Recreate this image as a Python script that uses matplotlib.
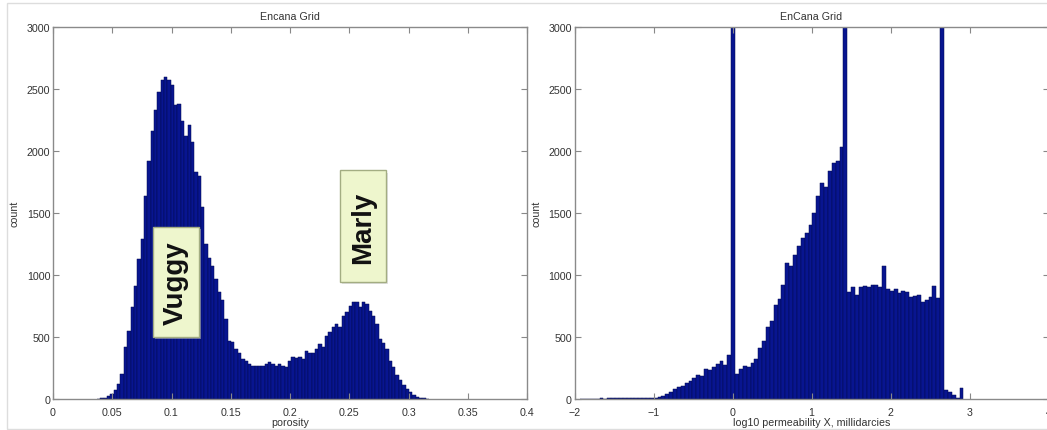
import numpy as np
import matplotlib
matplotlib.use("Agg")
from matplotlib import pyplot as plt
from matplotlib.patches import Rectangle
from matplotlib.transforms import offset_copy

plt.rcParams['font.family'] = ['Liberation Sans', 'DejaVu Sans']

##########################
# porosity histogram (99 bins)
##########################
poro_lo = 0.0371
poro_hi = 0.3173
poro_counts = [2, 5, 12, 22, 40, 70, 120, 200, 420, 550,
               740, 915, 1130, 1290, 1640, 1920, 2165, 2330, 2475, 2570,
               2600, 2570, 2530, 2370, 2380, 2245, 2125, 2210, 2070, 1830,
               1800, 1545, 1250, 1140, 1075, 970, 860, 795, 645, 470,
               457, 400, 375, 320, 310, 280, 270, 270, 270, 270,
               280, 295, 280, 270, 280, 270, 255, 310, 335, 330,
               335, 320, 390, 375, 375, 400, 445, 420, 510, 540,
               580, 605, 580, 670, 700, 750, 780, 780, 740, 780,
               765, 710, 670, 605, 485, 455, 400, 310, 255, 190,
               150, 110, 80, 55, 30, 20, 10, 5, 2]

##########################
# log10 perm histogram (99 bins)
##########################
perm_lo = -1.928
perm_hi = 2.923
perm_counts = [3, 0, 2, 4, 3, 5, 4, 6, 5, 7,
               6, 9, 8, 10, 9, 12, 10, 8, 6, 5,
               13, 27, 40, 60, 80, 95, 108, 127, 143, 167,
               197, 184, 243, 230, 257, 284, 310, 275, 356, 5200,
               200, 240, 265, 255, 290, 320, 410, 470, 580, 630,
               760, 805, 920, 1100, 1070, 1160, 1230, 1300, 1340, 1400,
               1500, 1640, 1740, 1710, 1840, 1900, 1920, 2030, 4400, 860,
               900, 840, 905, 915, 900, 922, 922, 905, 1075, 887,
               874, 887, 855, 868, 860, 820, 833, 841, 785, 801,
               820, 915, 812, 3900, 70, 60, 35, 10, 90]

poro_ticks = [0, 0.05, 0.1, 0.15, 0.2, 0.25, 0.3, 0.35, 0.4]
perm_ticks = [-2, -1, 0, 1, 2, 3, 4]
y_ticks = [0, 500, 1000, 1500, 2000, 2500, 3000]

# label boxes (data coords: x0, x1, y0, y1)
vuggy_box = (0.0844, 0.1232, 500, 1385)
marly_box = (0.2425, 0.2813, 941, 1843)

bar_face = '#081590'
bar_edge = '#020a50'
txt_col = '#333333'
fs = 7.7

fig = plt.figure(figsize=(10.47, 4.31), dpi=100)

# light screenshot frame
fig.add_artist(Rectangle((7/1047, 1/431), 1.0, 426/431, transform=fig.transFigure,
                         fill=False, edgecolor='#dddddd', lw=1))

ax1 = fig.add_axes([53/1047, 31/431, 474/1047, 372/431])
ax2 = fig.add_axes([574.5/1047, 31/431, 474/1047, 372/431])


def draw_hist(ax, counts, lo, hi):
    edges = np.linspace(lo, hi, len(counts) + 1)
    ax.bar(edges[:-1], counts, width=np.diff(edges), align='edge',
           color=bar_face, edgecolor=bar_edge, linewidth=0.35)


def style(ax, xticks, xlabel, title):
    ax.set_xticks(xticks)
    ax.set_xticklabels([f"{t:g}".replace('-', '\u2212') for t in xticks])
    ax.set_yticks(y_ticks)
    ax.set_ylim(0, 3000)
    ax.set_xlim(xticks[0], xticks[-1])
    ax.tick_params(direction='in', top=True, right=True, length=4, width=0.8,
                   color='#888888', labelsize=fs, labelcolor=txt_col)
    ax.tick_params(axis='x', pad=6)
    ax.tick_params(axis='y', pad=2)
    for s in ax.spines.values():
        s.set_color('#8a8a8a')
        s.set_linewidth(1)
    ax.set_xlabel(xlabel, fontsize=fs, color=txt_col, labelpad=0)
    ax.set_ylabel("count", fontsize=fs, color=txt_col, labelpad=5)
    ax.set_title(title, fontsize=fs, color=txt_col, pad=6)


def label_box(ax, box, text):
    x0, x1, y0, y1 = box
    # soft shadow
    sh = Rectangle((x0, y0), x1 - x0, y1 - y0, facecolor='#c4c4c4', edgecolor='none',
                   alpha=0.5, zorder=4)
    sh.set_transform(offset_copy(ax.transData, fig=ax.figure, x=1.5, y=-1.5, units='points'))
    ax.add_patch(sh)
    ax.add_patch(Rectangle((x0, y0), x1 - x0, y1 - y0, facecolor='#eef6cd',
                           edgecolor='#a3ad82', lw=1, zorder=5))
    ax.text((x0 + x1) / 2, (y0 + y1) / 2, text, rotation=90, ha='center', va='center',
            fontsize=20, fontweight='bold', color='#111111', zorder=6)


draw_hist(ax1, poro_counts, poro_lo, poro_hi)
style(ax1, poro_ticks, "porosity", "Encana Grid")
label_box(ax1, vuggy_box, "Vuggy")
label_box(ax1, marly_box, "Marly")

draw_hist(ax2, perm_counts, perm_lo, perm_hi)
style(ax2, perm_ticks, "log10 permeability X, millidarcies", "EnCana Grid")

fig.savefig("out.png", dpi=100)
